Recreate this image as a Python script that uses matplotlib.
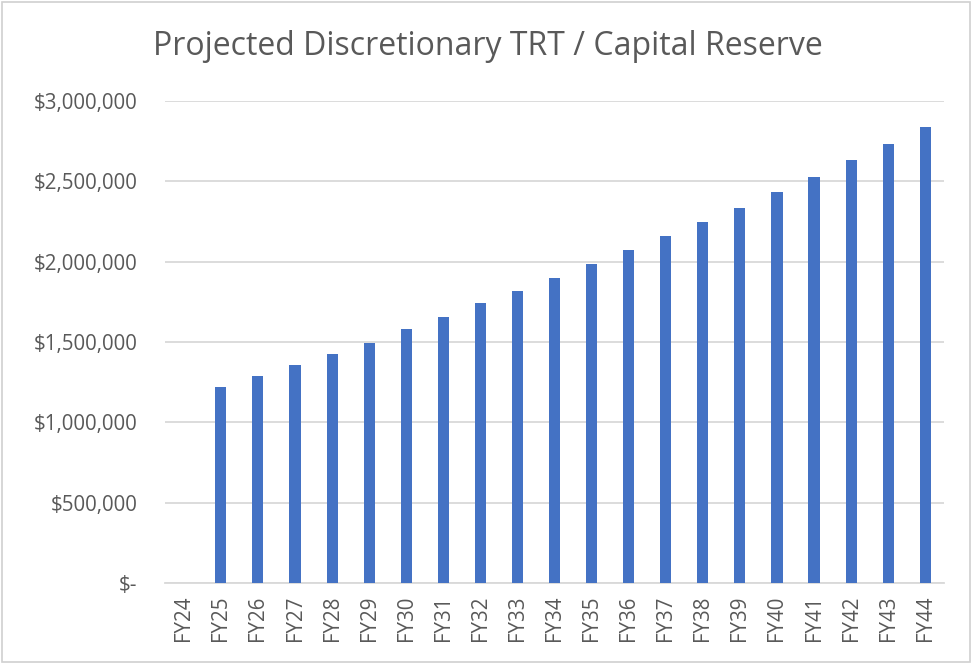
import numpy as np
import matplotlib
matplotlib.use('Agg')
import matplotlib.pyplot as plt
from matplotlib.ticker import FuncFormatter
from matplotlib.patches import Rectangle

plt.rcParams['font.family'] = ['Open Sans', 'DejaVu Sans']

# fiscal years and projected reserve values
years = ['FY%d' % y for y in range(24, 45)]
reserve = [0, 1218000, 1287000, 1354000, 1426000, 1496000, 1583000, 1656000,
           1745000, 1819000, 1896000, 1984000, 2071000, 2158000, 2245000,
           2334000, 2432000, 2525000, 2631000, 2734000, 2838000]

text_color = '#595959'
grid_color = '#d9d9d9'
bar_color = '#4472C4'

fig = plt.figure(figsize=(9.72, 6.64), dpi=100)
ax = fig.add_axes([0.170, 0.122, 0.801, 0.726])

x = np.arange(len(years))
ax.bar(x, reserve, width=0.3, color=bar_color, zorder=3)

ax.set_xlim(-0.5, len(years) - 0.5)
ax.set_ylim(0, 3000000)
ax.set_yticks(np.arange(0, 3000001, 500000))


def money(v, pos):
    if v == 0:
        return '$-'
    return '${:,.0f}'.format(v)


ax.yaxis.set_major_formatter(FuncFormatter(money))
ax.set_xticks(x)
ax.set_xticklabels(years, rotation=90)

ax.grid(axis='y', color=grid_color, linewidth=1.3, zorder=0)
for s in ['top', 'right', 'left']:
    ax.spines[s].set_visible(False)
ax.spines['bottom'].set_color(grid_color)
ax.spines['bottom'].set_linewidth(1.3)
ax.tick_params(axis='both', length=0, colors=text_color, labelsize=14.8)
ax.tick_params(axis='y', pad=20)
ax.tick_params(axis='x', pad=9)

fig.text(0.502, 0.93, 'Projected Discretionary TRT / Capital Reserve',
         ha='center', va='center', fontsize=23, color=text_color)

# outer chart border
fig.patches.append(Rectangle((0.002, 0.003), 0.996, 0.994, transform=fig.transFigure,
                             fill=False, edgecolor='#d0d0d0', linewidth=1.2))

fig.savefig('out.png', dpi=100)
plt.close()
